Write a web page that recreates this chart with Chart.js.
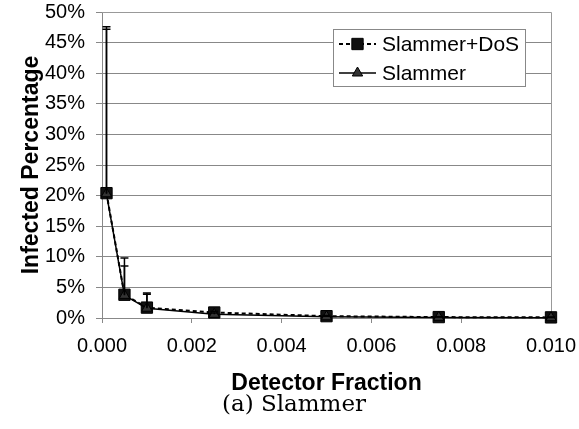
<!DOCTYPE html>
<html>
<head>
<meta charset="UTF-8" />
<title>Slammer</title>
<script src="https://cdn.jsdelivr.net/npm/chart.js"></script>
<style>
  html, body { margin: 0; padding: 0; background: #fff; }
  #wrap { width: 579px; height: 429px; position: relative; }
</style>
</head>
<body>
<div id="wrap"><canvas id="chart" width="579" height="429"></canvas></div>
<script>
// detector fraction values
const fractions = [0.0001, 0.0005, 0.001, 0.0025, 0.005, 0.0075, 0.01];

// infected percentage (mean) and upper error bar end
const dosMean = [20.4, 3.8, 1.7, 0.9, 0.3, 0.15, 0.1];
const dosUpper = [47.6, 9.8, 4.1, 1.1, 0.4, 0.2, 0.15];
const slamMean = [20.3, 3.7, 1.6, 0.6, 0.2, 0.1, 0.05];
const slamUpper = [47.2, 8.5, 3.9, 0.8, 0.3, 0.15, 0.1];

const yTicks = [0, 5, 10, 15, 20, 25, 30, 35, 40, 45, 50];
const xTicks = [0, 0.002, 0.004, 0.006, 0.008, 0.010];

const labelDos = "Slammer+DoS";
const labelSlam = "Slammer";
const caption = "(a) Slammer";

function pts(xs, ys) {
  return xs.map((x, i) => ({ x: x, y: ys[i] }));
}

// upward error bars, drawn through the scales
const errorBars = {
  id: "errorBars",
  afterDatasetsDraw(chart) {
    const ctx = chart.ctx;
    const xs = chart.scales.x, ys = chart.scales.y;
    ctx.save();
    ctx.strokeStyle = "#000";
    ctx.lineWidth = 1.5;
    chart.data.datasets.forEach(ds => {
      ds.upper.forEach((u, i) => {
        const px = xs.getPixelForValue(fractions[i]);
        const y0 = ys.getPixelForValue(ds.data[i].y);
        const y1 = ys.getPixelForValue(u);
        ctx.beginPath();
        ctx.moveTo(px, y0);
        ctx.lineTo(px, y1);
        ctx.moveTo(px - 4, y1);
        ctx.lineTo(px + 4, y1);
        ctx.stroke();
      });
    });
    ctx.restore();
  }
};

// plot frame, legend box and caption
const extras = {
  id: "extras",
  beforeDatasetsDraw(chart) {
    const { ctx, chartArea: a } = chart;
    ctx.save();
    ctx.strokeStyle = "#999";
    ctx.lineWidth = 1;
    ctx.beginPath();
    ctx.moveTo(a.left, a.top + 0.5);
    ctx.lineTo(a.right + 0.5, a.top + 0.5);
    ctx.lineTo(a.right + 0.5, a.bottom);
    ctx.stroke();
    ctx.restore();
  },
  afterDraw(chart) {
    const ctx = chart.ctx;
    ctx.save();
    // legend
    const bx = 333.5, by = 29.5, bw = 192, bh = 57;
    ctx.fillStyle = "#fff";
    ctx.fillRect(bx, by, bw, bh);
    ctx.strokeStyle = "#888";
    ctx.lineWidth = 1;
    ctx.strokeRect(bx, by, bw, bh);

    const order = [1, 0]; // DoS row first
    const rowsY = [44, 73];
    order.forEach((di, r) => {
      const ds = chart.data.datasets[di];
      const y = rowsY[r];
      ctx.strokeStyle = "#000";
      ctx.lineWidth = ds.borderWidth;
      ctx.setLineDash(ds.borderDash || []);
      ctx.beginPath();
      ctx.moveTo(339, y);
      ctx.lineTo(376, y);
      ctx.stroke();
      ctx.setLineDash([]);
      ctx.fillStyle = ds.pointBackgroundColor;
      ctx.strokeStyle = ds.pointBorderColor;
      ctx.lineWidth = 1;
      Chart.helpers.drawPoint(ctx, {
        pointStyle: ds.pointStyle,
        radius: ds.pointRadius,
        borderWidth: 1,
        rotation: 0
      }, 357.5, y);
      ctx.fillStyle = "#000";
      ctx.font = "21px 'Liberation Sans', Arial, sans-serif";
      ctx.textBaseline = "middle";
      ctx.textAlign = "left";
      ctx.fillText(ds.label, 382, y + 1);
    });

    // caption
    ctx.fillStyle = "#000";
    ctx.font = "23px 'DejaVu Serif', serif";
    ctx.textAlign = "center";
    ctx.textBaseline = "middle";
    ctx.fillText(caption, 294, 405);
    ctx.restore();
  }
};

new Chart(document.getElementById("chart"), {
  type: "line",
  data: {
    datasets: [
      {
        label: labelSlam,
        data: pts(fractions, slamMean),
        upper: slamUpper,
        borderColor: "#000",
        borderWidth: 1.5,
        pointStyle: "triangle",
        pointRadius: 6,
        pointBackgroundColor: "#333",
        pointBorderColor: "#000",
        pointBorderWidth: 1,
        tension: 0,
        clip: false,
        order: 0
      },
      {
        label: labelDos,
        data: pts(fractions, dosMean),
        upper: dosUpper,
        borderColor: "#000",
        borderWidth: 2,
        borderDash: [4, 3],
        pointStyle: "rect",
        pointRadius: 8,
        pointBackgroundColor: "#111",
        pointBorderColor: "#000",
        pointBorderWidth: 1,
        tension: 0,
        clip: false,
        order: 1
      }
    ]
  },
  options: {
    responsive: false,
    animation: false,
    layout: { padding: { top: 12, right: 28, bottom: 0, left: 0 } },
    plugins: { legend: { display: false }, tooltip: { enabled: false } },
    scales: {
      x: {
        type: "linear",
        min: 0,
        max: 0.01,
        afterFit(s) {
          s.height = 111;
          s.paddingLeft = 0;
          s.paddingRight = 0;
        },
        afterBuildTicks(s) { s.ticks = xTicks.map(v => ({ value: v })); },
        ticks: {
          color: "#000",
          font: { family: "'Liberation Sans', Arial, sans-serif", size: 20 },
          padding: 11,
          maxRotation: 0,
          callback: v => Number(v).toFixed(3)
        },
        grid: { drawOnChartArea: false, drawTicks: true, tickLength: 5, color: "#888" },
        border: { color: "#888" },
        title: {
          display: true,
          text: "Detector Fraction",
          color: "#000",
          font: { family: "'Liberation Sans', Arial, sans-serif", size: 23, weight: "bold" },
          padding: { top: 0, bottom: 32 }
        }
      },
      y: {
        min: 0,
        max: 50,
        afterFit(s) {
          s.width = 102;
          s.paddingTop = 0;
          s.paddingBottom = 0;
        },
        afterBuildTicks(s) { s.ticks = yTicks.map(v => ({ value: v })); },
        ticks: {
          color: "#000",
          font: { family: "'Liberation Sans', Arial, sans-serif", size: 20 },
          padding: 11,
          callback: v => v + "%"
        },
        grid: { color: "#888", tickLength: 6, lineWidth: 1 },
        border: { color: "#888" },
        title: {
          display: true,
          text: "Infected Percentage",
          color: "#000",
          font: { family: "'Liberation Sans', Arial, sans-serif", size: 23, weight: "bold" },
          padding: { top: 18, bottom: 0 }
        }
      }
    }
  },
  plugins: [errorBars, extras]
});
</script>
</body>
</html>
